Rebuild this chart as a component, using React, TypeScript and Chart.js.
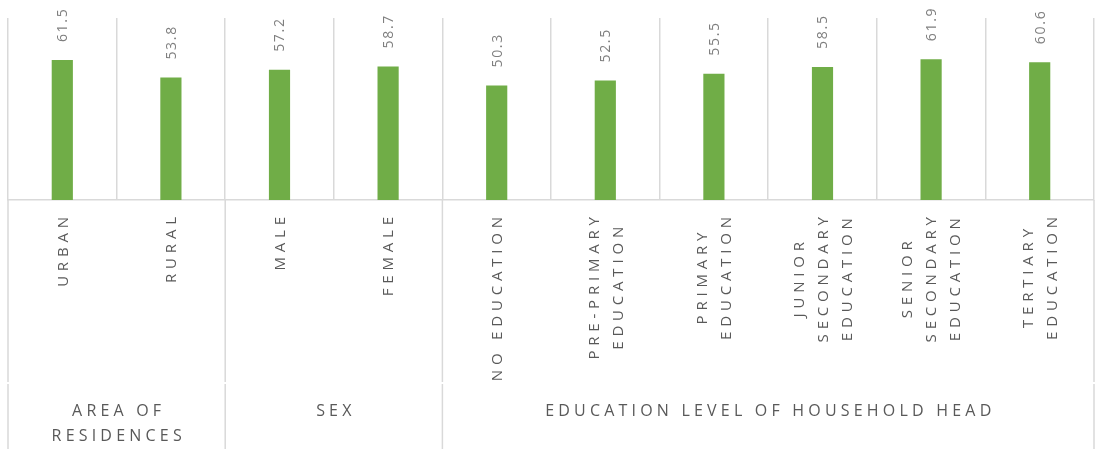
import React, { useEffect, useRef } from 'react';
import { Chart, registerables } from 'chart.js';

Chart.register(...registerables);

// ---- data ----
const categoryLines: string[][] = [
  ['URBAN'],
  ['RURAL'],
  ['MALE'],
  ['FEMALE'],
  ['NO EDUCATION'],
  ['PRE-PRIMARY', 'EDUCATION'],
  ['PRIMARY', 'EDUCATION'],
  ['JUNIOR', 'SECONDARY', 'EDUCATION'],
  ['SENIOR', 'SECONDARY', 'EDUCATION'],
  ['TERTIARY', 'EDUCATION'],
];
const values: number[] = [61.5, 53.8, 57.2, 58.7, 50.3, 52.5, 55.5, 58.5, 61.9, 60.6];
const groupLabels: string[][] = [['AREA OF', 'RESIDENCES'], ['SEX'], ['EDUCATION LEVEL OF HOUSEHOLD HEAD']];
const groupStart: number[] = [0, 2, 4];
const groupEnd: number[] = [1, 3, 9];

const FONT = '"Open Sans", sans-serif';
const GRID = '#d9d9d9';
const TEXT = '#595959';
const VALUE_TEXT = '#7f7f7f';
const GREEN = '#70ad47';

function spacedWidth(ctx: CanvasRenderingContext2D, text: string, sp: number) {
  const chars = Array.from(text);
  let w = 0;
  for (const ch of chars) w += ctx.measureText(ch).width;
  return w + sp * Math.max(0, chars.length - 1);
}

function drawSpaced(ctx: CanvasRenderingContext2D, text: string, x: number, y: number, sp: number) {
  ctx.textAlign = 'left';
  let cx = x;
  for (const ch of Array.from(text)) {
    ctx.fillText(ch, cx, y);
    cx += ctx.measureText(ch).width + sp;
  }
}

const overlay = {
  id: 'overlay',
  afterDraw(chart: any) {
    const ctx: CanvasRenderingContext2D = chart.ctx;
    const xs = chart.scales.x;
    const area = chart.chartArea;
    const step = xs.getPixelForValue(1) - xs.getPixelForValue(0);
    const base = area.bottom;

    ctx.save();
    // value labels
    const meta = chart.getDatasetMeta(0);
    ctx.font = `14px ${FONT}`;
    ctx.fillStyle = VALUE_TEXT;
    ctx.textBaseline = 'middle';
    meta.data.forEach((el: any, i: number) => {
      ctx.save();
      ctx.translate(el.x + 1, el.y - 18);
      ctx.rotate(-Math.PI / 2);
      drawSpaced(ctx, values[i].toFixed(1), 0, 0, 1.7);
      ctx.restore();
    });

    // category labels
    ctx.font = `15px ${FONT}`;
    ctx.fillStyle = TEXT;
    const catSp = 4.8;
    const lineH = 24;
    const top = base + 17;
    categoryLines.forEach((lines, i) => {
      const cx = xs.getPixelForValue(i) + 1;
      const widths = lines.map((l) => spacedWidth(ctx, l, catSp));
      const W = Math.max(...widths);
      const mid = top + W / 2;
      lines.forEach((l, j) => {
        const lx = cx + (j - (lines.length - 1) / 2) * lineH;
        ctx.save();
        ctx.translate(lx, mid + widths[j] / 2);
        ctx.rotate(-Math.PI / 2);
        drawSpaced(ctx, l, 0, 0, catSp);
        ctx.restore();
      });
    });

    // group separators
    ctx.strokeStyle = GRID;
    ctx.lineWidth = 1.5;
    const bounds: number[] = groupStart.map((s) => xs.getPixelForValue(s) - step / 2);
    bounds.push(xs.getPixelForValue(groupEnd[groupEnd.length - 1]) + step / 2);
    const brk = base + 183;
    bounds.forEach((bx) => {
      ctx.beginPath();
      ctx.moveTo(bx, base);
      ctx.lineTo(bx, brk - 1);
      ctx.moveTo(bx, brk + 1);
      ctx.lineTo(bx, chart.height);
      ctx.stroke();
    });

    // group labels
    ctx.font = `16px ${FONT}`;
    ctx.fillStyle = TEXT;
    const gSp = 4.2;
    groupLabels.forEach((lines, g) => {
      const x0 = xs.getPixelForValue(groupStart[g]) - step / 2;
      const x1 = xs.getPixelForValue(groupEnd[g]) + step / 2;
      const cx = (x0 + x1) / 2;
      lines.forEach((l, j) => {
        const w = spacedWidth(ctx, l, gSp);
        drawSpaced(ctx, l, cx - w / 2, base + 211 + j * 25, gSp);
      });
    });
    ctx.restore();
  },
};

export default function App() {
  const ref = useRef<HTMLCanvasElement>(null);
  useEffect(() => {
    if (!ref.current) return;
    const chart = new Chart(ref.current, {
      type: 'bar',
      data: {
        labels: categoryLines.map((l) => l.join(' ')),
        datasets: [
          {
            data: values,
            backgroundColor: GREEN,
            borderWidth: 0,
            categoryPercentage: 1,
            barPercentage: 0.195,
          },
        ],
      },
      options: {
        animation: false,
        responsive: false,
        layout: { padding: { left: 8, right: 2, top: 18, bottom: 249 } },
        plugins: { legend: { display: false }, tooltip: { enabled: false } },
        scales: {
          x: {
            display: true,
            ticks: { display: false },
            grid: { offset: true, drawTicks: false, color: GRID, lineWidth: 1.5 },
            border: { display: true, color: GRID, width: 1.5 },
          },
          y: { display: false, min: 0, max: 80 },
        },
      },
      plugins: [overlay],
    });
    return () => chart.destroy();
  }, []);
  return (
    <div style={{ position: 'absolute', left: 0, top: 0, width: 1096, height: 449 }}>
      <canvas ref={ref} width={1096} height={449} style={{ display: 'block' }} />
    </div>
  );
}
